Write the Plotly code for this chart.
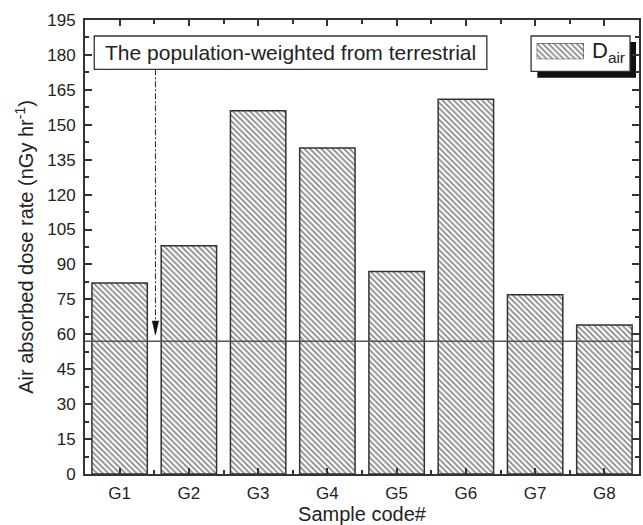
import plotly.graph_objects as go

# ---- data ----
samples = ["G1", "G2", "G3", "G4", "G5", "G6", "G7", "G8"]
dose = [82, 98, 156, 140, 87, 161, 77, 64]
pop_weighted = 57
y_tick_vals = list(range(0, 196, 15))
note_text = "The population-weighted from terrestrial"
legend_name = "D<sub>air</sub>"

positions = list(range(1, len(samples) + 1))

# plot-area pixel geometry (643x525 canvas)
L, R, T, B = 85, 641, 20, 474
W_FIG, H_FIG = 643, 525


def px(x):
    return (x - L) / (R - L)


def py(y):
    return (B - y) / (B - T)


AX = "#333333"
FONT = "Liberation Sans, Arial, sans-serif"
pattern = dict(shape="\\", size=4, solidity=0.45, fgcolor="#111111", bgcolor="white", fillmode="overlay")

fig = go.Figure()
fig.add_trace(go.Bar(
    x=positions, y=dose, width=0.8,
    marker=dict(color="white", pattern=pattern, line=dict(color=AX, width=1.5)),
    showlegend=False,
))

# legend swatch drawn as a bar on a tiny helper subplot
fig.add_trace(go.Bar(
    x=[0.5], y=[1], width=1, xaxis="x2", yaxis="y2",
    marker=dict(color="white", pattern=pattern, line=dict(color=AX, width=1)),
    showlegend=False,
))

fig.update_layout(
    width=W_FIG, height=H_FIG,
    margin=dict(l=L, r=W_FIG - R, t=T, b=H_FIG - B, pad=0),
    paper_bgcolor="white", plot_bgcolor="white",
    font=dict(family=FONT, size=17, color="#222222"),
    showlegend=False,
    xaxis=dict(
        range=[0.5, 8.5], tickvals=positions, ticktext=samples,
        ticks="inside", ticklen=6, tickwidth=1.5, tickcolor=AX,
        minor=dict(tick0=0.5, dtick=1, ticks="inside", ticklen=4, tickwidth=1.5, tickcolor=AX),
        showline=True, linecolor=AX, linewidth=2, mirror="ticks",
        showgrid=False, zeroline=False,
        title=dict(text="Sample code#", font=dict(size=20), standoff=3),
        ticklabelstandoff=3,
    ),
    yaxis=dict(
        range=[0, 195], tickvals=y_tick_vals,
        ticks="inside", ticklen=7, tickwidth=1.5, tickcolor=AX,
        minor=dict(dtick=7.5, ticks="inside", ticklen=4, tickwidth=1.5, tickcolor=AX),
        showline=True, linecolor=AX, linewidth=2, mirror="ticks",
        showgrid=False, zeroline=False,
        title=dict(text="Air absorbed dose rate (nGy hr<sup>-1</sup>)", font=dict(size=20), standoff=8),
        ticklabelstandoff=4,
    ),
    xaxis2=dict(domain=[px(538.3), px(585.7)], range=[0, 1], anchor="y2", visible=False, fixedrange=True),
    yaxis2=dict(domain=[py(59.3), py(43.3)], range=[0, 1], anchor="x2", visible=False, fixedrange=True),
)

shapes = [
    # population-weighted reference line
    dict(type="line", xref="paper", x0=0, x1=1, yref="y", y0=pop_weighted, y1=pop_weighted,
         line=dict(color="#555555", width=1.5), layer="above"),
    # note box
    dict(type="rect", xref="paper", yref="paper", x0=px(94.3), x1=px(488.3), y0=py(69.3), y1=py(36),
         fillcolor="white", line=dict(color=AX, width=1.3), layer="below"),
    # dash-dot pointer
    dict(type="line", xref="paper", yref="paper", x0=px(155.7), x1=px(155.7), y0=py(69.3), y1=py(322),
         line=dict(color="#222222", width=1, dash="6px,2px,2px,2px"), layer="above"),
    # arrow head
    dict(type="path", xref="paper", yref="paper",
         path=f"M {px(152.5)},{py(321)} L {px(158.9)},{py(321)} L {px(155.7)},{py(335)} Z",
         fillcolor="#111111", line=dict(color="#111111", width=0.5), layer="above"),
    # legend shadow
    dict(type="rect", xref="paper", yref="paper", x0=px(539), x1=px(638), y0=py(77.7), y1=py(42),
         fillcolor="#111111", line=dict(width=0), layer="below"),
    # legend box
    dict(type="rect", xref="paper", yref="paper", x0=px(532.7), x1=px(632), y0=py(71.3), y1=py(36),
         fillcolor="white", line=dict(color=AX, width=1.3), layer="below"),
]
fig.update_layout(shapes=shapes)

fig.add_annotation(xref="paper", yref="paper", x=px(291.3), y=py(52.7), text=note_text,
                   showarrow=False, font=dict(size=21, color="#222222"), xanchor="center", yanchor="middle")
fig.add_annotation(xref="paper", yref="paper", x=px(592), y=py(52), text=legend_name,
                   showarrow=False, font=dict(size=22, color="#222222"), xanchor="left", yanchor="middle")

fig.write_html("out.html")
